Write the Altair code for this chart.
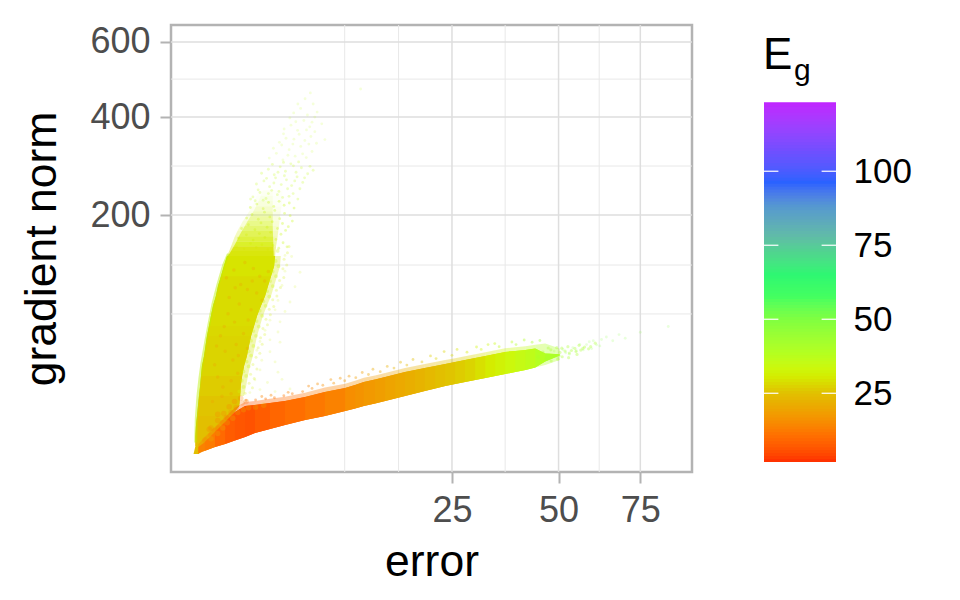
import altair as alt
import pandas as pd

FONT = "Liberation Sans"

# ---- axis + grid values ----
x_ticks = [25, 50, 75]
y_ticks = [200, 400, 600]
x_minor = [8.5, 15.7, 36.4, 61.8]
y_minor = [67.8, 124.5, 291.6, 496]
eg_ticks = [25, 50, 75, 100]

# ---- colour ramp ----
eg_stops = [1.8, 10.3, 21.4, 25, 27.5, 30, 33, 38, 49.4, 57, 64.6, 72, 77.6, 87.7, 95.7, 105.7, 123.2]
eg_colors = ["#FF3300", "#FF7000", "#E8B000", "#E0C400", "#DAD800", "#D4EC00", "#CCF80C", "#B4FF20", "#80FF40", "#44FF60",
             "#2DF772", "#4FD58E", "#60BBA8", "#5598D0", "#2962FF", "#6C50FF", "#C322FF"]

# ---- left branch, dense body: gradient norm, error at left edge, error at right edge, Eg ----
left_grad = [-0.02, 0.12, 0.88, 2.36, 4.55, 7.46, 11.1, 15.4, 20.5, 26.2, 32.7, 40, 47.8, 56.4, 66, 76, 86.5, 98, 110, 123, 137]
left_errl = [-0.0005, 0.0002, 0.0002, 0.0006, 0.002, 0.004, 0.007, 0.011, 0.015, 0.02, 0.033, 0.044, 0.057, 0.077, 0.1, 0.127, 0.17, 0.205, 0.26, 0.32, 0.395]
left_errr = [0.006, 0.06, 0.15, 0.3, 0.5, 0.75, 0.78, 0.8, 0.85, 0.92, 1.03, 1.11, 1.2, 1.33, 1.47, 1.66, 1.87, 2.03, 2.2, 2.38, 2.44]
left_eg = [24, 24, 24, 24, 25, 25, 26, 26, 27, 27, 27, 27, 27.5, 28, 28, 28, 28, 28, 29, 29, 29]

# ---- soft right margin of the left branch ----
soft_grad = [11.1, 15.4, 20.5, 26.2, 32.7, 40, 47.8, 56.4, 66, 76, 86.5, 98, 110, 123, 137]
soft_errl = [0.5, 0.5, 0.55, 0.6, 0.65, 0.7, 0.75, 0.8, 0.9, 1.0, 1.1, 1.2, 1.3, 1.4, 1.5]
soft_errr = [0.92, 1.0, 1.07, 1.155, 1.28, 1.37, 1.47, 1.61, 1.76, 1.97, 2.2, 2.38, 2.56, 2.75, 2.8]

# ---- left branch, fading top ----
fade_grad = [137, 144, 151, 158, 166, 174, 182, 190, 198, 206, 215, 224, 234, 244]
fade_errl = [0.395, 0.45, 0.5, 0.55, 0.61, 0.69, 0.78, 0.88, 1.0, 1.12, 1.24, 1.35, 1.45, 1.55]
fade_errr = [2.44, 2.47, 2.5, 2.55, 2.6, 2.64, 2.68, 2.72, 2.75, 2.8, 2.85, 2.88, 2.9, 2.92]
fade_op = [0.92, 0.85, 0.75, 0.65, 0.55, 0.45, 0.36, 0.28, 0.21, 0.15, 0.1, 0.07, 0.04]
fade_eg = [29, 29, 30, 30, 30, 31, 31, 31, 32, 32, 33, 33, 34]
core_errl = [0.42, 0.5, 0.58, 0.66, 0.74, 0.84, 0.95, 1.06, 1.18, 1.3, 1.42, 1.54, 1.65, 1.75]
core_errr = [2.36, 2.35, 2.34, 2.33, 2.32, 2.31, 2.3, 2.3, 2.3, 2.3, 2.3, 2.3, 2.3, 2.3]

# ---- lower branch, dense body: error, gradient norm at lower edge, upper edge, Eg ----
low_err = [0.005, 0.04, 0.156, 0.35, 0.61, 0.96, 1.37, 2.14, 3.08, 4.6, 6.4, 8.55, 9.71, 10.8, 12.28, 13.7, 15.16, 16.7, 18.33, 20, 21.83, 23.7, 25.6, 27.6, 29.7, 31.9, 34.1, 36.4, 38.8, 41.3, 43.8, 46.4, 50.3]
low_lo = [-0.01, 0.004, 0.08, 0.21, 0.45, 0.77, 1.25, 1.84, 2.55, 3.59, 4.55, 5.92, 6.7, 7.46, 8.3, 9.18, 10.1, 11.1, 12.1, 13.2, 14.3, 15.4, 16.4, 17.4, 18.4, 19.4, 20.5, 21.6, 22.7, 23.9, 25.4, 29, 33]
low_hi = [0.08, 0.34, 1.38, 3.15, 5.63, 7.46, 7.8, 8.47, 9.18, 10.7, 12.7, 14.5, 15.9, 17.4, 18.6, 19.9, 21.3, 22.7, 23.8, 25, 26.2, 27.5, 28.7, 30, 31.3, 32.7, 34.1, 35.6, 36.3, 37, 38.1, 34.5, 34]
soft_lo = [-0.01, 0.004, 0.08, 0.21, 0.45, 0.77, 1.25, 1.84, 2.55, 3.59, 4.55, 5.92, 6.7, 7.46, 8.3, 9.18, 10.1, 11.1, 12.1, 13.2, 14.3, 15.4, 16.4, 17.4, 18.4, 19.4, 20.5, 21.6, 22.7, 23.9, 25.4, 26.9, 30]
soft_hi = [0.2, 0.8, 2.2, 4.3, 6.9, 8.8, 9.2, 10, 10.8, 12.4, 14.7, 16.5, 18, 19.5, 20.8, 22.2, 23.6, 25, 26.2, 27.5, 28.7, 30, 31.2, 32.5, 33.9, 35.4, 36.8, 38.2, 39, 39.8, 40.8, 41.8, 38]
low_eg = [13, 12, 9, 7, 6, 5.5, 7, 8.5, 10, 11.5, 13, 15, 16, 17, 18, 19, 20, 21, 22, 23, 24, 25, 26, 27, 28.5, 30, 31.5, 33, 34.5, 36, 38, 40, 43]

# ---- scattered points ----
cloud_dense = [(0.66, 150), (0.92, 147), (1.18, 155), (1.43, 149), (1.71, 153), (2.02, 146), (2.31, 152), (2.67, 148),
               (2.95, 156), (3.22, 150), (0.72, 163), (1.01, 168), (1.29, 160), (1.58, 170), (1.86, 164), (2.18, 172),
               (2.49, 161), (2.81, 169), (3.12, 175), (0.83, 178), (1.09, 184), (1.37, 176), (1.66, 187), (1.98, 180),
               (2.27, 189), (2.59, 178), (2.91, 186), (3.31, 181), (3.6, 190), (1.02, 195), (1.24, 201), (1.53, 193),
               (1.84, 205), (2.13, 197), (2.42, 208), (2.73, 194), (3.05, 203), (3.44, 199), (1.17, 213), (1.46, 219),
               (1.77, 211), (2.06, 222), (2.36, 215), (2.69, 224), (3.02, 217), (3.38, 221), (3.73, 212)]
cloud_mid = [(1.28, 232), (1.61, 240), (1.92, 229), (2.24, 244), (2.58, 236), (2.92, 231), (3.26, 247), (3.66, 238),
             (4.02, 228), (1.44, 256), (1.81, 262), (2.12, 251), (2.47, 268), (2.83, 255), (3.18, 264), (3.55, 253),
             (3.96, 270), (4.41, 259), (1.69, 277), (2.05, 285), (2.39, 274), (2.76, 290), (3.11, 281), (3.49, 296),
             (3.88, 279), (4.3, 288), (4.82, 276), (1.52, 245), (1.77, 226), (2.05, 238), (2.37, 258), (2.68, 242),
             (3.04, 272), (3.36, 233), (3.78, 262), (4.18, 247), (1.95, 267), (2.28, 295), (2.62, 279), (2.98, 299),
             (3.68, 292), (4.08, 300), (4.56, 268), (1.38, 225), (1.18, 228), (5.02, 291), (5.3, 283)]
cloud_sparse = [(2.1, 308), (2.52, 318), (2.94, 304), (3.37, 326), (3.81, 312), (4.25, 333), (4.7, 309), (5.2, 322),
                (2.71, 342), (3.15, 351), (3.64, 338), (4.12, 360), (4.58, 346), (5.1, 355), (5.6, 340), (3.02, 372),
                (3.5, 381), (4.0, 369), (4.5, 392), (5.0, 377), (5.45, 400), (3.7, 410), (4.24, 421), (4.8, 405),
                (5.3, 432), (4.6, 445), (5.05, 460), (10.4, 470), (2.34, 329), (2.86, 336), (3.28, 314), (3.72, 349),
                (4.4, 317), (4.92, 338), (5.45, 366), (2.98, 361), (3.86, 389), (4.72, 370), (5.2, 388), (4.02, 432),
                (3.42, 398), (5.66, 412), (6.1, 384), (6.4, 348)]
right_soft = [(0.75, 13), (0.84, 18), (0.9, 23), (1.02, 29), (1.1, 36), (1.2, 44), (1.3, 52), (1.45, 61), (1.6, 71), (1.78, 81),
              (1.98, 92), (2.15, 104), (2.3, 116), (2.48, 130), (2.6, 144), (0.9, 15), (1.0, 20.5), (1.1, 26), (1.2, 33),
              (1.3, 40), (1.42, 48), (1.55, 56), (1.72, 66), (1.9, 76), (2.1, 86), (2.3, 98), (2.5, 110), (2.65, 123)]
right_near = [(0.96, 12.2), (1.12, 16.8), (1.26, 14.6), (1.18, 21.4), (1.34, 19.2), (1.28, 27.1), (1.46, 24.5), (1.42, 31.8),
              (1.6, 34.7), (1.52, 38.6), (1.72, 41.2), (1.64, 46.3), (1.85, 49.1), (1.76, 54.2), (2.0, 57.6), (1.92, 62.8),
              (2.16, 66.9), (2.1, 72.5), (2.36, 75.4), (2.3, 82.6), (2.55, 86.7), (2.52, 93.2), (2.78, 96.4), (2.72, 104.7),
              (3.0, 108.3), (2.94, 119.6), (3.2, 124.5), (3.02, 132.2), (3.25, 141.6), (3.36, 150.4)]
right_far = [(1.15, 12.5), (1.61, 13.8), (2.44, 12.9), (3.43, 14.1), (1.37, 18.4), (2.0, 17.1), (2.88, 18.7), (1.61, 23.9),
             (2.62, 22.6), (1.7, 29.9), (2.44, 28.8), (1.46, 36.8), (2.14, 35.7), (1.61, 43.4), (2.14, 44.7), (2.75, 42.9),
             (1.87, 52.6), (2.62, 51.2), (2.14, 61.8), (2.75, 60.3), (2.44, 71.9), (3.08, 70.2), (2.62, 81.8), (3.43, 80.1),
             (2.88, 98.7), (3.8, 97.2), (3.08, 116.5), (4.19, 115.1), (3.08, 137.6), (3.55, 136.1)]
left_line_err = [0.0004, 0.001, 0.004, 0.011, 0.02, 0.044, 0.077, 0.127, 0.205, 0.32, 0.43]
left_line_grad = [0.3, 4, 11, 20, 28, 42, 58, 78, 100, 125, 140]
orange_flecks = [(0.2, 20), (0.35, 36), (0.6, 60), (0.45, 85), (0.8, 100), (1.3, 120), (0.55, 30), (0.9, 50), (1.2, 72),
                 (0.3, 15), (0.7, 22), (1.45, 90), (0.25, 48), (0.42, 68), (0.75, 78), (1.05, 94), (1.6, 110), (0.95, 128),
                 (0.15, 27), (0.5, 12), (1.05, 38), (0.65, 41), (0.38, 108), (1.85, 104), (0.58, 118), (0.12, 9), (0.28, 11),
                 (0.5, 18), (0.18, 40), (0.72, 33), (0.33, 56), (1.08, 62), (0.62, 96), (1.72, 82), (1.25, 104), (2.05, 116)]
blend_flecks = [(0.04, 0.5), (0.1, 1.0), (0.15, 1.6), (0.22, 2.0), (0.3, 3.0), (0.38, 4.2), (0.5, 5.5), (0.65, 7.0), (0.85, 8.5),
                (0.1, 2.0), (0.2, 3.5), (0.32, 5.2), (0.45, 7.2), (0.6, 9.0), (0.2, 5.0), (0.08, 1.8), (1.0, 9.0), (0.8, 10.2)]
yellow_over = [(0.1, 0.6), (0.2, 1.2), (0.3, 2.0), (0.4, 3.0), (0.55, 4.0), (0.7, 5.5), (0.9, 6.3), (1.1, 6.9), (1.4, 7.1), (1.8, 7.7)]
low_fringe = [(1.0, 9.4, 12), (1.4, 9.6, 11), (1.9, 10.0, 11), (2.4, 10.4, 11), (3.0, 11.2, 11), (3.6, 12.0, 12), (4.4, 12.9, 13),
              (5.2, 14.3, 14), (6.2, 15.8, 15), (7.3, 16.8, 16), (8.5, 18.0, 17), (9.8, 19.6, 18), (11.4, 21.3, 19), (13.0, 22.9, 20),
              (15.0, 25.0, 22), (17.0, 26.8, 23), (19.5, 28.8, 25), (22.0, 31.0, 27), (25.0, 33.2, 28), (28.0, 35.4, 30),
              (31.0, 37.4, 33), (35.0, 39.4, 36), (39.0, 41.0, 39), (43.0, 42.8, 41), (1.7, 10.9, 13), (3.3, 12.6, 13), (5.7, 16.4, 15),
              (9.0, 20.4, 17), (14.0, 26.0, 21), (21.0, 32.8, 26), (30.0, 39.2, 32), (38.0, 43.0, 37), (2.2, 11.4, 14), (7.0, 18.6, 16),
              (12.0, 24.3, 20), (18.0, 30.4, 24), (26.0, 37.4, 29), (34.0, 41.8, 34), (45.0, 44.2, 43), (4.9, 15.4, 14), (8.0, 19.3, 16),
              (10.6, 22.4, 18), (16.0, 28.6, 23), (23.5, 35.8, 27), (32.5, 41.0, 33), (41.0, 44.6, 39)]
tail_pts = [(47.5, 33.5), (48.8, 36.2), (49.6, 31.8), (50.3, 33), (51.2, 37.3), (52, 35), (53, 34), (54, 38.6), (55, 36.4), (56, 41.2),
            (57, 37), (58, 41), (58.8, 43.2), (59.5, 38), (60, 44), (61, 40.8), (62, 40), (62.5, 45), (64, 47), (66, 44), (68, 49),
            (70, 46), (75, 51), (84.7, 56)]
low_tail = [(46.5, 30.5), (48, 29.4), (49.8, 30.6), (51, 32.2), (52.8, 31.6), (47.2, 38.4), (50.4, 35.2), (53.6, 36.6), (55.2, 33.8),
            (48.9, 33.2), (51.8, 36.2), (54.6, 38.1), (56.3, 36.9), (57.4, 39.2), (58.6, 37.8), (52.6, 39.4), (49.5, 38.7), (55.8, 40.4),
            (44.6, 32.2), (45.8, 35.4), (47.9, 37.1), (50.9, 38.3), (53.0, 34.8), (54.9, 35.9), (56.9, 38.2), (59.2, 39.5), (60.6, 42.1)]


def seg_rows(a, b, c, eg, names, span=2):
    rows = []
    for i in range(len(a) - 1):
        for j in range(i, min(i + span + 1, len(a))):
            rows.append({names[0]: a[j], names[1]: b[j], names[2]: c[j], "eg": eg[i], "seg": i})
    return pd.DataFrame(rows)


def fade_rows(errl, errr, scale):
    return pd.DataFrame([{"grad": fade_grad[j], "err": errl[j], "err2": errr[j], "eg": fade_eg[i],
                          "op": fade_op[i] * scale, "seg": i}
                         for i in range(len(fade_op)) for j in (i, i + 1)])


left_df = seg_rows(left_grad, left_errl, left_errr, left_eg, ["grad", "err", "err2"])
low_df = seg_rows(low_err, low_lo, low_hi, low_eg, ["err", "grad", "grad2"])
low_soft_df = seg_rows(low_err, soft_lo, soft_hi, low_eg, ["err", "grad", "grad2"], span=1)
soft_df = pd.DataFrame({"grad": soft_grad, "err": soft_errl, "err2": soft_errr})


def pairs(lst, eg):
    return pd.DataFrame([{"err": e, "grad": g, "eg": eg} for e, g in lst])


xs = alt.Scale(type="sqrt", domain=[-0.212, 93.4], nice=False, zero=False)
ys = alt.Scale(type="sqrt", domain=[-1.47, 650.5], nice=False, zero=False)
cs = alt.Scale(domain=eg_stops, range=eg_colors, clamp=True, interpolate="lab")

x_axis = alt.Axis(values=x_ticks, grid=False, domain=False, tickColor="#B3B3B3", tickSize=11,
                  tickWidth=2, labelColor="#4D4D4D", labelFontSize=36, labelFont=FONT,
                  labelPadding=10, titleFontSize=44.5, titleFont=FONT, titleFontWeight="normal",
                  titleColor="#000000", titlePadding=12, title="error")
y_axis = alt.Axis(values=y_ticks, grid=False, domain=False, tickColor="#B3B3B3", tickSize=11,
                  tickWidth=2, labelColor="#4D4D4D", labelFontSize=36, labelFont=FONT,
                  labelPadding=10, titleFontSize=44.5, titleFont=FONT, titleFontWeight="normal",
                  titleColor="#000000", titlePadding=25, title="gradient norm")
X = alt.X("err:Q", scale=xs, axis=x_axis)
Y = alt.Y("grad:Q", scale=ys, axis=y_axis)
C = alt.Color("eg:Q", scale=cs, legend=None)


def vrules(vals, width, color):
    return alt.Chart(pd.DataFrame({"err": vals})).mark_rule(color=color, strokeWidth=width).encode(x=X)


def hrules(vals, width, color):
    return alt.Chart(pd.DataFrame({"grad": vals})).mark_rule(color=color, strokeWidth=width).encode(y=Y)


def pts(df, size, opacity):
    return alt.Chart(df).mark_circle(size=size, opacity=opacity).encode(x=X, y=Y, color=C)


def fade_band(df):
    return alt.Chart(df).mark_area(orient="horizontal").encode(
        x=X, x2="err2:Q", y=Y, color=C, detail="seg:N", opacity=alt.Opacity("op:Q", scale=None))


left_band = alt.Chart(left_df).mark_area(orient="horizontal").encode(
    x=X, x2="err2:Q", y=Y, color=C, detail="seg:N")
soft_band = alt.Chart(soft_df).mark_area(orient="horizontal", color="#D2E400", opacity=0.3).encode(
    x=X, x2="err2:Q", y=Y)
low_band = alt.Chart(low_df).mark_area(orient="vertical").encode(
    x=X, y=Y, y2="grad2:Q", color=C, detail="seg:N")
low_soft = alt.Chart(low_soft_df).mark_area(orient="vertical", opacity=0.35).encode(
    x=X, y=Y, y2="grad2:Q", color=C, detail="seg:N")
left_line = alt.Chart(pd.DataFrame({"err": left_line_err, "grad": left_line_grad})).mark_line(
    color="#B8F000", strokeWidth=3, opacity=0.45).encode(x=X, y=Y)

main = alt.layer(
    vrules(x_minor, 1, "#E8E8E8"), hrules(y_minor, 1, "#E8E8E8"),
    vrules(x_ticks, 1.5, "#DEDEDE"), hrules(y_ticks, 1.5, "#DEDEDE"),
    pts(pairs(cloud_sparse, 36), 8, 0.16), pts(pairs(cloud_mid, 35), 8, 0.25), pts(pairs(cloud_dense, 34), 8, 0.32),
    pts(pairs(right_far, 32), 8, 0.16), pts(pairs(right_near, 31), 9, 0.24), pts(pairs(tail_pts, 48), 8, 0.18),
    soft_band, left_band,
    fade_band(fade_rows(fade_errl, fade_errr, 0.45)), fade_band(fade_rows(core_errl, core_errr, 1.0)),
    left_line,
    pts(pairs(right_soft, 33), 14, 0.3), pts(pairs(orange_flecks, 17), 12, 0.25),
    pts(pairs(blend_flecks, 12), 30, 0.25),
    low_soft,
    pts(pd.DataFrame(low_fringe, columns=["err", "grad", "eg"]), 8, 0.4),
    low_band, pts(pairs(yellow_over, 25), 30, 0.22), pts(pairs(low_tail, 41), 10, 0.35),
).properties(width=521, height=447, view=alt.ViewConfig(stroke="#B3B3B3", strokeWidth=2.5))

# ---- colour bar ----
bar_lo = [1.8 + i for i in range(122)]
bar_df = pd.DataFrame({"eg": bar_lo, "hi": [min(v + 1.4, 123.2) for v in bar_lo]})
by = alt.Scale(domain=[-1.6, 149.4], nice=False, zero=False)
bar_axis = alt.Axis(orient="right", values=eg_ticks, grid=False, domain=False, ticks=False,
                    labelColor="#000000", labelFontSize=35, labelFont=FONT, labelPadding=17, title=None)
bar = alt.Chart(bar_df).mark_rect().encode(
    x=alt.value(0), x2=alt.value(72),
    y=alt.Y("eg:Q", scale=by, axis=bar_axis), y2="hi:Q", color=C)
tick_df = pd.DataFrame({"eg": eg_ticks})
t1 = alt.Chart(tick_df).mark_rule(color="white", strokeWidth=1.2).encode(
    x=alt.value(0), x2=alt.value(14.4), y=alt.Y("eg:Q", scale=by, axis=bar_axis))
t2 = alt.Chart(tick_df).mark_rule(color="white", strokeWidth=1.2).encode(
    x=alt.value(57.6), x2=alt.value(72), y=alt.Y("eg:Q", scale=by, axis=bar_axis))
lab_e = alt.Chart(pd.DataFrame({"eg": [139], "t": ["E"]})).mark_text(
    font=FONT, fontSize=44, align="left", baseline="middle", color="#000000").encode(
    x=alt.value(-1), y=alt.Y("eg:Q", scale=by, axis=bar_axis), text="t:N")
lab_g = alt.Chart(pd.DataFrame({"eg": [133.8], "t": ["g"]})).mark_text(
    font=FONT, fontSize=30, align="left", baseline="middle", color="#000000").encode(
    x=alt.value(30), y=alt.Y("eg:Q", scale=by, axis=bar_axis), text="t:N")
panel = alt.layer(bar, t1, t2, lab_e, lab_g).properties(
    width=72, height=447, view=alt.ViewConfig(stroke=None))

chart = alt.hconcat(main, panel, spacing=69).properties(
    padding={"left": 10, "top": 14, "right": 0, "bottom": 0}
).configure_view(stroke=None)

chart.save("out.html", embed_options={"renderer": "svg", "actions": False})
